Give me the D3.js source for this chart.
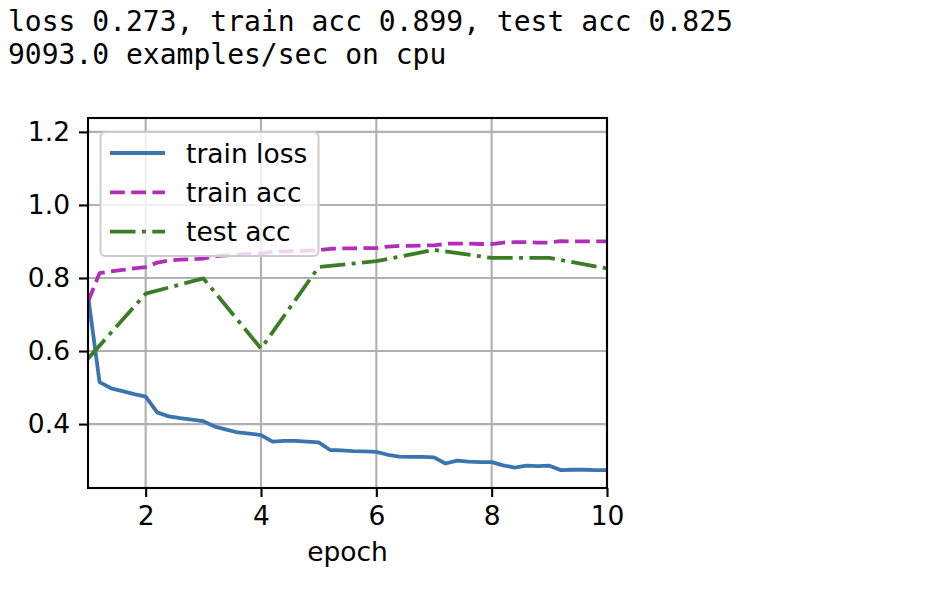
<!DOCTYPE html>
<html>
<head>
<meta charset="utf-8">
<script src="https://cdn.jsdelivr.net/npm/d3@7"></script>
<style>
  body { margin: 0; background: #fff; }
  svg { display: block; }
</style>
</head>
<body>
<svg id="chart" width="940" height="600"></svg>
<script>
// ---- data ----
const titleLines = ["loss 0.273, train acc 0.899, test acc 0.825", "9093.0 examples/sec on cpu"];
const seriesNames = ["train loss", "train acc", "test acc"];
const batchEpochs = [1.0,
  1.2,1.4,1.6,1.8,2.0, 2.2,2.4,2.6,2.8,3.0, 3.2,3.4,3.6,3.8,4.0, 4.2,4.4,4.6,4.8,5.0,
  5.2,5.4,5.6,5.8,6.0, 6.2,6.4,6.6,6.8,7.0, 7.2,7.4,7.6,7.8,8.0, 8.2,8.4,8.6,8.8,9.0,
  9.2,9.4,9.6,9.8,10.0];
const trainLoss = [0.752,
  0.515,0.498,0.490,0.482,0.475, 0.432,0.421,0.416,0.412,0.408, 0.393,0.385,0.377,0.374,0.370,
  0.352,0.354,0.354,0.352,0.350, 0.329,0.328,0.326,0.325,0.324, 0.316,0.311,0.310,0.310,0.309,
  0.292,0.300,0.297,0.296,0.296, 0.287,0.281,0.286,0.285,0.286, 0.274,0.275,0.275,0.274,0.274];
const trainAcc = [0.735,
  0.813,0.818,0.822,0.826,0.830, 0.842,0.848,0.850,0.851,0.853, 0.860,0.862,0.864,0.866,0.867,
  0.872,0.873,0.874,0.875,0.876, 0.880,0.881,0.881,0.882,0.882, 0.886,0.888,0.888,0.889,0.889,
  0.894,0.894,0.894,0.893,0.893, 0.897,0.898,0.898,0.897,0.897, 0.901,0.900,0.900,0.900,0.900];
const testEpochs = [1,2,3,4,5,6,7,8,9,10];
const testAcc = [0.579,0.757,0.799,0.607,0.830,0.846,0.877,0.855,0.855,0.826];
const xTicks = [2,4,6,8,10];
const yTicks = [0.4,0.6,0.8,1.0,1.2];
const xLabel = "epoch";

// ---- layout ----
const svg = d3.select("#chart");
const L = 88, R = 607, T = 118, B = 488;
const x = d3.scaleLinear().domain([1, 10]).range([L, R]);
const y = d3.scaleLinear().domain([0.225, 1.238]).range([B, T]);
const font = "'DejaVu Sans', sans-serif";
const fs = 26.5;
const colors = ["#3a75b0", "#b12fb8", "#3a7d24"];
const dashes = [null, "14.8,6.4", "25.5,6.4,4,6.4"];
const lw = 3.8;

// title
svg.append("g").selectAll("text").data(titleLines).join("text")
  .attr("x", 8).attr("y", (d, i) => 31 + i * 33)
  .attr("font-family", "'DejaVu Sans Mono', monospace")
  .attr("font-size", 28).attr("fill", "#000")
  .text(d => d);

// grid
const grid = svg.append("g");
grid.selectAll("line.gx").data(xTicks).join("line")
  .attr("x1", d => x(d)).attr("x2", d => x(d)).attr("y1", T).attr("y2", B)
  .attr("stroke", "#b0b0b0").attr("stroke-width", 2.1);
grid.selectAll("line.gy").data(yTicks).join("line")
  .attr("y1", d => y(d)).attr("y2", d => y(d)).attr("x1", L).attr("x2", R)
  .attr("stroke", "#b0b0b0").attr("stroke-width", 2.1);

// clip
svg.append("clipPath").attr("id", "clip").append("rect")
  .attr("x", L).attr("y", T).attr("width", R - L).attr("height", B - T);

const lineGen = d3.line().x(d => x(d[0])).y(d => y(d[1]));
const seriesData = [
  d3.zip(batchEpochs, trainLoss),
  d3.zip(batchEpochs, trainAcc),
  d3.zip(testEpochs, testAcc)
];
const plot = svg.append("g").attr("clip-path", "url(#clip)");
seriesData.forEach((data, i) => {
  plot.append("path").datum(data)
    .attr("d", lineGen)
    .attr("fill", "none")
    .attr("stroke", colors[i])
    .attr("stroke-width", lw)
    .attr("stroke-linejoin", "round")
    .attr("stroke-dasharray", dashes[i]);
});

// axes
const xAxis = d3.axisBottom(x).tickValues(xTicks).tickSize(9).tickPadding(9).tickFormat(d3.format("d"));
const yAxis = d3.axisLeft(y).tickValues(yTicks).tickSize(9).tickPadding(9).tickFormat(d3.format(".1f"));
const gx = svg.append("g").attr("transform", `translate(0,${B})`).call(xAxis);
const gy = svg.append("g").attr("transform", `translate(${L},0)`).call(yAxis);
[gx, gy].forEach(g => {
  g.select(".domain").remove();
  g.selectAll(".tick line").attr("stroke", "#000").attr("stroke-width", 2.1);
  g.selectAll(".tick text").attr("font-family", font).attr("font-size", fs).attr("fill", "#000");
});

// spines
svg.append("rect").attr("x", L).attr("y", T).attr("width", R - L).attr("height", B - T)
  .attr("fill", "none").attr("stroke", "#000").attr("stroke-width", 2.1);

// x label
svg.append("text").attr("x", (L + R) / 2).attr("y", 561)
  .attr("text-anchor", "middle").attr("font-family", font).attr("font-size", fs)
  .attr("fill", "#000").text(xLabel);

// legend
const lg = svg.append("g");
lg.append("rect").attr("x", 100.5).attr("y", 132).attr("width", 218).attr("height", 124)
  .attr("rx", 5).attr("fill", "#fff").attr("fill-opacity", 0.8)
  .attr("stroke", "#cccccc").attr("stroke-width", 2);
seriesNames.forEach((name, i) => {
  const cy = 153 + i * 39.3;
  lg.append("line").attr("x1", 110).attr("x2", 165).attr("y1", cy).attr("y2", cy)
    .attr("stroke", colors[i]).attr("stroke-width", lw)
    .attr("stroke-dasharray", dashes[i]);
  lg.append("text").attr("x", 186).attr("y", cy + 9.5)
    .attr("font-family", font).attr("font-size", fs).attr("fill", "#000").text(name);
});
</script>
</body>
</html>
